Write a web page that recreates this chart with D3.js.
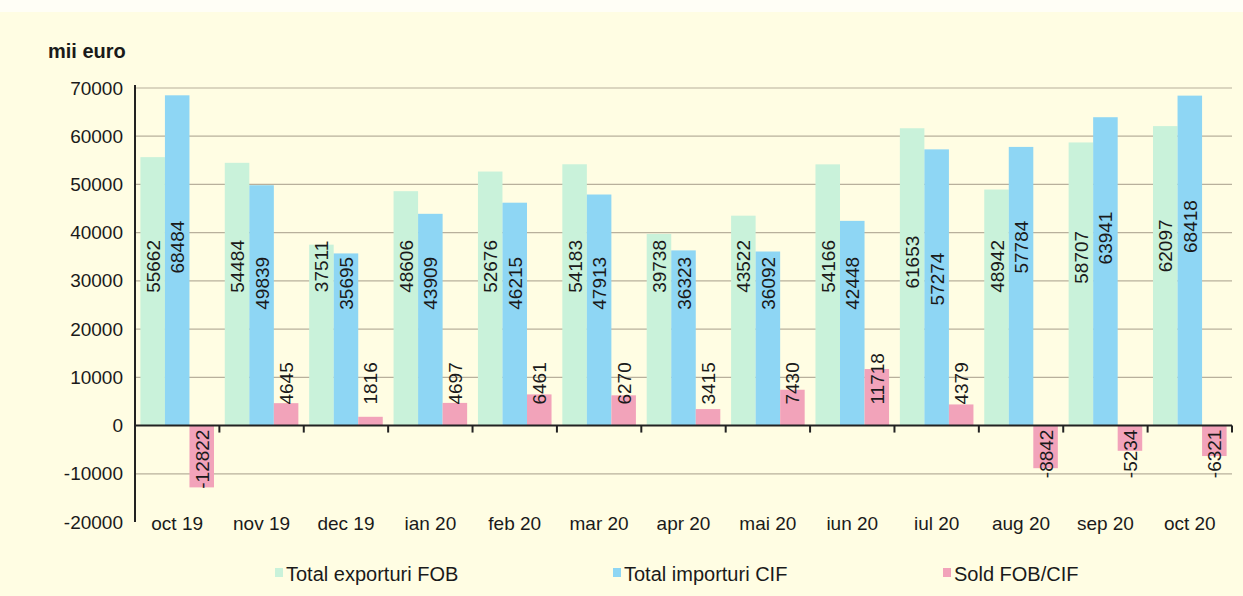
<!DOCTYPE html>
<html><head><meta charset="utf-8">
<script src="https://cdn.jsdelivr.net/npm/d3@7"></script>
<style>
html,body{margin:0;padding:0;background:#fff;}
svg{display:block;font-family:"Liberation Sans",Arial,sans-serif;}
</style></head>
<body><svg id="c" width="1243" height="596"></svg>
<script>
const categories = ["oct 19","nov 19","dec 19","ian 20","feb 20","mar 20","apr 20","mai 20","iun 20","iul 20","aug 20","sep 20","oct 20"];
const exportsFOB = [55662,54484,37511,48606,52676,54183,39738,43522,54166,61653,48942,58707,62097];
const importsCIF = [68484,49839,35695,43909,46215,47913,36323,36092,42448,57274,57784,63941,68418];
const soldFOBCIF = [-12822,4645,1816,4697,6461,6270,3415,7430,11718,4379,-8842,-5234,-6321];
const yTicks = [70000,60000,50000,40000,30000,20000,10000,0,-10000,-20000];
const seriesNames = ["Total exporturi FOB","Total importuri CIF","Sold FOB/CIF"];
const colors = ["#c9f2da","#8ed6f4","#f2a3ba"];

(function(){
const svg = d3.select("#c");
svg.append("rect").attr("x",0).attr("y",0).attr("width",1243).attr("height",596).attr("fill","#fffde3");
svg.append("rect").attr("x",0).attr("y",0).attr("width",1243).attr("height",12).attr("fill","#fffef6");

const pL = 135, pR = 1232, pT = 88, pB = 522;
const x = d3.scaleBand().domain(categories).range([pL,pR]).padding(0);
const xs = d3.scaleBand().domain([0,1,2]).range([0,x.bandwidth()]).paddingInner(0).paddingOuter(0.22);
const y = d3.scaleLinear().domain([-20000,70000]).range([pB,pT]);

// gridlines
svg.append("g").selectAll("line").data(yTicks.filter(t=>t!==0 && t!==-20000)).join("line")
  .attr("x1",pL).attr("x2",pR).attr("y1",d=>y(d)).attr("y2",d=>y(d))
  .attr("stroke","#b8b09c").attr("stroke-width",1.2);

const series = [exportsFOB, importsCIF, soldFOBCIF];
const gBars = svg.append("g");
series.forEach((vals,si)=>{
  gBars.selectAll(null).data(vals).join("rect")
    .attr("x",(d,i)=>x(categories[i])+xs(si))
    .attr("width",xs.bandwidth())
    .attr("y",d=>Math.min(y(d),y(0)))
    .attr("height",d=>Math.abs(y(d)-y(0)))
    .attr("fill",colors[si]);
});

// y axis
const yAxis = d3.axisLeft(y).tickValues(yTicks).tickSize(0).tickPadding(12).tickFormat(d=>String(d));
const ga = svg.append("g").attr("transform",`translate(${pL},0)`).call(yAxis);
ga.select(".domain").attr("stroke","#222").attr("stroke-width",2).attr("d",`M0,${pT-3}V${pB}`);
ga.selectAll("text").attr("font-size",19).attr("fill","#1a1a1a").attr("font-family","Liberation Sans, Arial, sans-serif");

// zero axis with ticks
const xAxis = d3.axisBottom(x).tickSize(0).tickFormat("");
const gx = svg.append("g").attr("transform",`translate(0,${y(0)})`).call(xAxis);
gx.select(".domain").attr("stroke","#222").attr("stroke-width",2).attr("d",`M${pL},0H${pR}`);
const bounds = categories.map((c,i)=>x(c)+x.bandwidth());
gx.selectAll("line.bt").data(bounds).join("line").attr("class","bt")
  .attr("x1",d=>d).attr("x2",d=>d).attr("y1",0).attr("y2",7).attr("stroke","#222").attr("stroke-width",2);

// category labels
svg.append("g").selectAll("text").data(categories).join("text")
  .attr("x",d=>x(d)+x.bandwidth()/2).attr("y",pB+8)
  .attr("text-anchor","middle").attr("font-size",19).attr("fill","#1a1a1a").text(d=>d);

// value labels
const lab = svg.append("g").attr("font-size",19).attr("fill","#1a1a1a");
categories.forEach((c,i)=>{
  const e = exportsFOB[i], m = importsCIF[i], s = soldFOBCIF[i];
  const base = 33000 + Math.max(0, Math.min(e,m) - 56000)*0.7;
  const gv = base;
  const bv = m < e ? base - 3500 : base + 4000;
  const lx = k => x(c)+xs(k)+xs.bandwidth()/2 + 7;
  [[e,gv,0],[m,bv,1]].forEach(([v,cv,k])=>{
    lab.append("text").attr("transform",`translate(${lx(k)},${y(cv)}) rotate(-90)`)
      .attr("text-anchor","middle").text(v);
  });
  if (s >= 0) {
    lab.append("text").attr("transform",`translate(${lx(2)},${y(0)-21}) rotate(-90)`)
      .attr("text-anchor","start").text(s);
  } else {
    lab.append("text").attr("transform",`translate(${lx(2)},${y(0)+4}) rotate(-90)`)
      .attr("text-anchor","end").text(s);
  }
});

// title
svg.append("text").attr("x",48).attr("y",58).attr("font-size",20).attr("font-weight","bold").attr("fill","#1a1a1a").text("mii euro");

// legend
const legX = [275, 613, 943];
const lg = svg.append("g");
seriesNames.forEach((n,i)=>{
  lg.append("rect").attr("x",legX[i]).attr("y",568).attr("width",8).attr("height",9).attr("fill",colors[i]);
  lg.append("text").attr("x",legX[i]+11).attr("y",581).attr("font-size",20).attr("fill","#1a1a1a").text(n);
});
})();
</script></body></html>
